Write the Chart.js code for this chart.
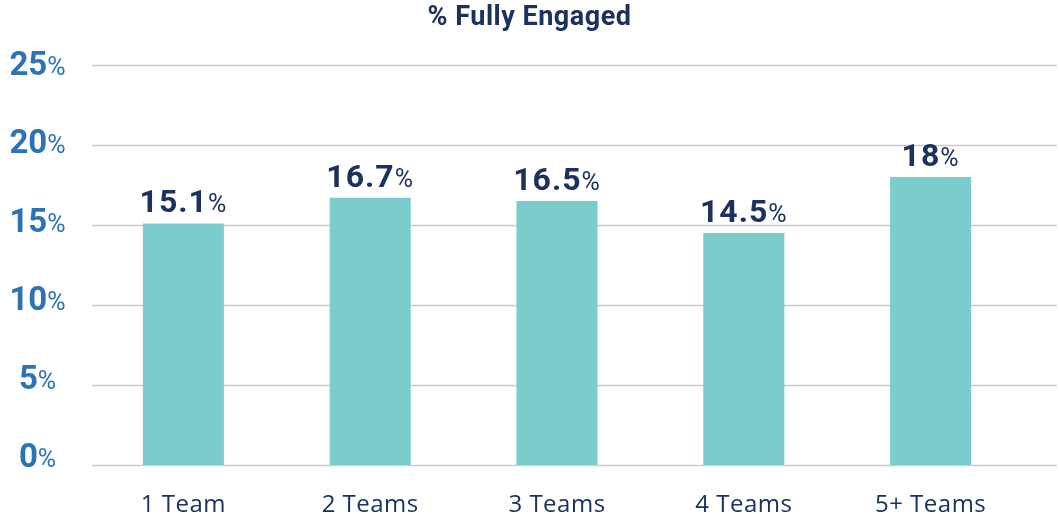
<!DOCTYPE html>
<html>
<head>
<meta charset="utf-8">
<script src="https://cdn.jsdelivr.net/npm/chart.js@4"></script>
<style>
  html, body { margin: 0; padding: 0; background: #fff; }
  #wrap { width: 1059px; height: 514px; position: relative; }
</style>
</head>
<body>
<div id="wrap"><canvas id="engagedChart"></canvas></div>
<script>
const categories = ['1 Team', '2 Teams', '3 Teams', '4 Teams', '5+ Teams'];
const fullyEngaged = [15.1, 16.7, 16.5, 14.5, 18];
const yTicks = [0, 5, 10, 15, 20, 25];

const navy = '#1b3160';
const blue = '#2b72b9';
const teal = '#7acdcc';
const fontFam = 'Roboto, "Liberation Sans", sans-serif';

// number in bold, "%" smaller and regular, centred on cx
function drawSplit(ctx, num, numFont, pctFont, cx, baseline, color, gap) {
  ctx.font = numFont;
  const w1 = ctx.measureText(num).width;
  ctx.font = pctFont;
  const w2 = ctx.measureText('%').width;
  let x = cx - (w1 + gap + w2) / 2;
  ctx.fillStyle = color;
  ctx.textAlign = 'left';
  ctx.textBaseline = 'alphabetic';
  ctx.font = numFont;
  ctx.fillText(num, x, baseline);
  ctx.font = pctFont;
  ctx.fillText('%', x + w1 + gap, baseline);
}

const decor = {
  id: 'decor',
  beforeDatasetsDraw(chart) {
    const ctx = chart.ctx;
    const y = chart.scales.y;
    ctx.save();
    ctx.strokeStyle = '#cbcbcb';
    ctx.lineWidth = 1.6;
    yTicks.forEach(v => {
      const py = Math.round(y.getPixelForValue(v)) + 0.5;
      ctx.beginPath();
      ctx.moveTo(92, py);
      ctx.lineTo(chart.width - 2, py);
      ctx.stroke();
    });
    ctx.restore();
  },
  afterDraw(chart) {
    const ctx = chart.ctx;
    const y = chart.scales.y;
    ctx.save();
    // title
    ctx.fillStyle = navy;
    ctx.letterSpacing = '0.5px';
    ctx.font = 'bold 27px ' + fontFam;
    ctx.textAlign = 'center';
    ctx.textBaseline = 'alphabetic';
    ctx.fillText('% Fully Engaged', chart.width / 2, 25);
    ctx.letterSpacing = '0px';
    // y tick labels
    yTicks.forEach(v => {
      const py = y.getPixelForValue(v);
      drawSplit(ctx, String(v), 'bold 33px ' + fontFam, '25px ' + fontFam,
        37.5, py + 2 + 8 * v / 25, blue, 0);
    });
    // value labels + category labels
    const meta = chart.getDatasetMeta(0);
    meta.data.forEach((bar, i) => {
      ctx.letterSpacing = '1px';
      drawSplit(ctx, String(fullyEngaged[i]), 'bold 32px ' + fontFam, '25px ' + fontFam,
        bar.x, bar.y - 11, navy, 0);
      ctx.letterSpacing = '0.5px';
      ctx.fillStyle = navy;
      ctx.font = '24px "Open Sans", sans-serif';
      ctx.textAlign = 'center';
      ctx.fillText(categories[i], bar.x, 512);
    });
    ctx.restore();
  }
};

const ctx = document.getElementById('engagedChart').getContext('2d');
const engagedChart = new Chart(ctx, {
  type: 'bar',
  data: {
    labels: categories,
    datasets: [{
      label: '% Fully Engaged',
      data: fullyEngaged,
      backgroundColor: teal,
      borderWidth: 0,
      barPercentage: 0.434,
      categoryPercentage: 1
    }]
  },
  options: {
    responsive: true,
    maintainAspectRatio: false,
    animation: false,
    layout: { padding: { left: 90, right: 35, top: 65, bottom: 49 } },
    plugins: {
      legend: { display: false },
      title: { display: false },
      tooltip: { enabled: false }
    },
    scales: {
      x: { display: false },
      y: { min: 0, max: 25, display: false }
    }
  },
  plugins: [decor]
});
</script>
</body>
</html>
